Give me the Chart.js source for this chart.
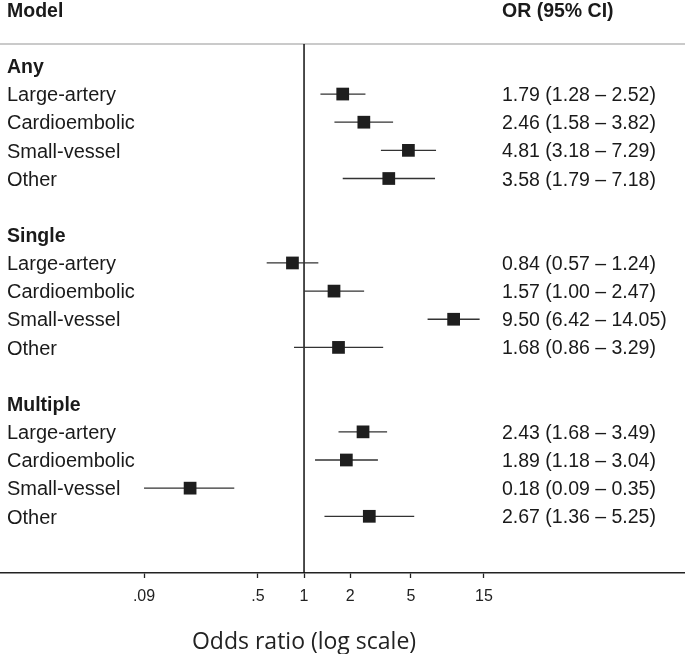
<!DOCTYPE html>
<html>
<head>
<meta charset="utf-8">
<script src="https://cdn.jsdelivr.net/npm/chart.js@4.4.0/dist/chart.umd.min.js"></script>
<style>
  html, body { margin: 0; padding: 0; background: #fff; }
  #wrap { width: 685px; height: 654px; position: relative; }
</style>
</head>
<body>
<div id="wrap"><canvas id="forest"></canvas></div>
<script>
// headers and row labels
const headerLeft = 'Model';
const headerRight = 'OR (95% CI)';
const groups = ['Any', 'Single', 'Multiple'];
const subtypes = ['Large-artery', 'Cardioembolic', 'Small-vessel', 'Other'];

// odds ratios with 95% CI, one array per group, in subtype order
const orAny = [1.79, 2.46, 4.81, 3.58];
const loAny = [1.28, 1.58, 3.18, 1.79];
const hiAny = [2.52, 3.82, 7.29, 7.18];

const orSingle = [0.84, 1.57, 9.50, 1.68];
const loSingle = [0.57, 1.00, 6.42, 0.86];
const hiSingle = [1.24, 2.47, 14.05, 3.29];

const orMultiple = [2.43, 1.89, 0.18, 2.67];
const loMultiple = [1.68, 1.18, 0.09, 1.36];
const hiMultiple = [3.49, 3.04, 0.35, 5.25];

// x axis
const tickValues = [0.09, 0.5, 1, 2, 5, 15];
const tickLabels = ['.09', '.5', '1', '2', '5', '15'];
const refValue = 1;
const xTitle = 'Odds ratio (log scale)';

const orByGroup = [orAny, orSingle, orMultiple];
const loByGroup = [loAny, loSingle, loMultiple];
const hiByGroup = [hiAny, hiSingle, hiMultiple];

// one row per group header + one per subtype, blank row between groups
const rowsPerGroup = subtypes.length + 2;
const textRows = [];
const points = [];
const ciSegments = [];
groups.forEach((g, gi) => {
  const base = gi * rowsPerGroup;
  textRows.push({ row: base, label: g, bold: true });
  subtypes.forEach((s, si) => {
    const row = base + 1 + si;
    const or = orByGroup[gi][si], lo = loByGroup[gi][si], hi = hiByGroup[gi][si];
    textRows.push({
      row: row, label: s, bold: false,
      ci: or.toFixed(2) + ' (' + lo.toFixed(2) + ' \u2013 ' + hi.toFixed(2) + ')'
    });
    points.push({ x: or, y: row });
    ciSegments.push({ x: lo, y: row }, { x: hi, y: row }, { x: null, y: null });
  });
});

const textColor = '#1a1a1a';

const forestExtras = {
  id: 'forestExtras',
  beforeDatasetsDraw(chart) {
    const { ctx, chartArea, scales } = chart;
    const x1 = scales.x.getPixelForValue(refValue);
    ctx.save();
    ctx.strokeStyle = '#b8b8b8';
    ctx.lineWidth = 1.5;
    ctx.beginPath();
    ctx.moveTo(0, chartArea.top);
    ctx.lineTo(chart.width, chartArea.top);
    ctx.stroke();
    ctx.strokeStyle = '#111';
    ctx.lineWidth = 1.5;
    ctx.beginPath();
    ctx.moveTo(x1, chartArea.top);
    ctx.lineTo(x1, chartArea.bottom);
    ctx.stroke();
    ctx.restore();
  },
  afterDraw(chart) {
    const { ctx, chartArea, scales } = chart;
    const leftX = 7, rightX = 502;
    ctx.save();
    ctx.fillStyle = textColor;
    ctx.textBaseline = 'alphabetic';
    ctx.textAlign = 'left';

    ctx.font = 'bold 19.5px "Liberation Sans", Arial, sans-serif';
    ctx.fillText(headerLeft, leftX, chartArea.top - 27);
    ctx.fillText(headerRight, rightX, chartArea.top - 27);

    textRows.forEach(r => {
      const y = scales.y.getPixelForValue(r.row);
      if (r.bold) {
        ctx.font = 'bold 19.5px "Liberation Sans", Arial, sans-serif';
        ctx.fillText(r.label, leftX, y + 7);
      } else {
        ctx.font = '20px "Liberation Sans", Arial, sans-serif';
        ctx.fillText(r.label, leftX, y + 7.2);
        ctx.font = '19.5px "Liberation Sans", Arial, sans-serif';
        ctx.fillText(r.ci, rightX, y + 7);
      }
    });

    ctx.font = '23px "Open Sans", sans-serif';
    ctx.textAlign = 'center';
    ctx.fillStyle = '#222';
    ctx.fillText(xTitle, scales.x.getPixelForValue(refValue), chart.height - 5);
    ctx.restore();
  }
};

Chart.defaults.font.family = '"Liberation Sans", Arial, sans-serif';

new Chart(document.getElementById('forest'), {
  type: 'scatter',
  data: {
    datasets: [
      {
        data: points,
        pointStyle: 'rect',
        pointRadius: 9,
        borderWidth: 0,
        backgroundColor: '#1e1e1e',
        showLine: false,
        order: 0
      },
      {
        data: ciSegments,
        showLine: true,
        spanGaps: false,
        pointRadius: 0,
        borderColor: '#333',
        borderWidth: 1.3,
        order: 1
      }
    ]
  },
  options: {
    responsive: true,
    maintainAspectRatio: false,
    animation: false,
    layout: { autoPadding: false, padding: { top: 44, left: 0, right: 0, bottom: 0 } },
    plugins: { legend: { display: false }, tooltip: { enabled: false } },
    scales: {
      x: {
        type: 'logarithmic',
        bounds: 'data',
        min: 0.0103,
        max: 309,
        afterBuildTicks: scale => {
          scale.ticks = tickValues.map(v => ({ value: v }));
        },
        afterFit: scale => { scale.height = 81; },
        grid: { drawOnChartArea: false, drawTicks: true, tickLength: 5, tickColor: '#222', tickWidth: 1.3 },
        border: { display: true, color: '#222', width: 1.5 },
        ticks: {
          autoSkip: false,
          maxRotation: 0,
          padding: 9,
          color: '#222',
          font: { size: 16 },
          callback: value => {
            const i = tickValues.indexOf(value);
            return i >= 0 ? tickLabels[i] : '';
          }
        }
      },
      y: {
        type: 'linear',
        display: false,
        reverse: true,
        min: -0.778,
        max: 18.014
      }
    }
  },
  plugins: [forestExtras]
});
</script>
</body>
</html>
